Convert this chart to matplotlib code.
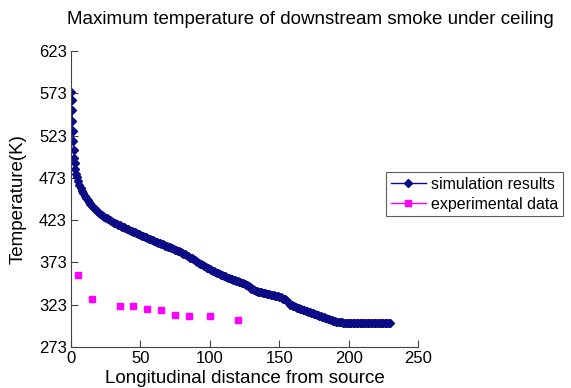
import matplotlib
matplotlib.use("Agg")
import matplotlib.pyplot as plt
from matplotlib.lines import Line2D

plt.rcParams['font.family'] = ['Liberation Sans', 'DejaVu Sans']

# simulated ceiling smoke temperature (K) along the tunnel (m)
sim_x = [0, 0.4, 0.7, 1.0, 1.3, 1.6, 1.9, 2.2, 2.6, 3.0, 3.5, 4, 5, 6, 7, 8, 9,
         10, 11, 12, 13, 14, 15, 16, 17, 18, 19,
         20, 21, 22, 23, 24, 25, 26, 27, 28, 29,
         30, 31, 32, 33, 34, 35, 36, 37, 38, 39,
         40, 41, 42, 43, 44, 45, 46, 47, 48, 49,
         50, 51, 52, 53, 54, 55, 56, 57, 58, 59,
         60, 61, 62, 63, 64, 65, 66, 67, 68, 69,
         70, 71, 72, 73, 74, 75, 76, 77, 78, 79,
         80, 81, 82, 83, 84, 85, 86, 87, 88, 89,
         90, 91, 92, 93, 94, 95, 96, 97, 98, 99,
         100, 101, 102, 103, 104, 105, 106, 107, 108, 109,
         110, 111, 112, 113, 114, 115, 116, 117, 118, 119,
         120, 121, 122, 123, 124, 125, 126, 127, 128, 129,
         130, 131, 132, 133, 134, 135, 136, 137, 138, 139,
         140, 141, 142, 143, 144, 145, 146, 147, 148, 149,
         150, 151, 152, 153, 154, 155, 156, 157, 158, 159,
         160, 161, 162, 163, 164, 165, 166, 167, 168, 169,
         170, 171, 172, 173, 174, 175, 176, 177, 178, 179,
         180, 181, 182, 183, 184, 185, 186, 187, 188, 189,
         190, 191, 192, 193, 194, 195, 196, 197, 198, 199,
         200, 201, 202, 203, 204, 205, 206, 207, 208, 209,
         210, 211, 212, 213, 214, 215, 216, 217, 218, 219,
         220, 221, 222, 223, 224, 225, 226, 227, 228, 229,
         230]
sim_T = [575, 565, 553, 540, 528, 516, 506, 497, 490, 484, 478, 474, 469,
         465, 461, 458, 455,
         452, 449, 446.5, 444, 442, 440, 438, 436.5, 435, 433.5,
         432, 430.7, 429.5, 428.2, 427, 426, 425, 424, 423, 422,
         421, 420.1, 419.2, 418.3, 417.5, 416.7, 416, 415.2, 414.5, 413.7,
         413, 412.2, 411.5, 410.7, 410, 409.2, 408.5, 407.7, 407, 406.2,
         405.5, 404.7, 404, 403.2, 402.5, 401.7, 401, 400.3, 399.7, 399,
         398.4, 397.7, 397, 396.3, 395.7, 395, 394.4, 393.7, 393, 392.3,
         391.6, 390.9, 390.2, 389.5, 388.8, 388.1, 387.4, 386.7, 386, 385.2,
         384.4, 383.5, 382.6, 381.6, 380.7, 379.7, 378.7, 377.7, 376.7, 375.7,
         374.7, 373.7, 372.7, 371.7, 370.7, 369.7, 368.7, 367.7, 366.8, 365.9,
         365, 364.1, 363.2, 362.4, 361.6, 360.8, 360, 359.2, 358.5, 357.8,
         357.1, 356.4, 355.7, 355, 354.4, 353.7, 353.1, 352.4, 351.8, 351.1,
         350.5, 349.9, 349.3, 348.7, 348.1, 347.4, 346.8, 346.1, 345.4, 344,
         342, 341, 340, 339.5, 339, 338.6, 338.2, 337.8, 337.4, 337,
         336.6, 336.2, 335.8, 335.4, 335, 334.6, 334.2, 333.8, 333.3, 332.8,
         332.3, 331.7, 331, 330.3, 329.5, 328, 326, 324.5, 323, 322.2,
         321.5, 320.9, 320.3, 319.6, 319, 318.4, 317.8, 317.2, 316.6, 316,
         315.4, 314.8, 314.2, 313.6, 313, 312.4, 311.8, 311.1, 310.5, 309.8,
         309.2, 308.6, 308, 307.4, 306.8, 306.2, 305.6, 305, 304.5, 304,
         303.5, 303.1, 302.8, 302.5, 302.2, 302, 301.8, 301.6, 301.5, 301.3,
         301.2, 301.1, 301, 301, 301, 301, 301, 301, 301, 301,
         301, 301, 301, 301, 301, 301, 301, 301, 301, 301,
         301, 301, 301, 301, 301, 301, 301, 301, 301, 301,
         301]

# measured values
exp_x = [5, 15, 35, 45, 55, 65, 75, 85, 100, 120]
exp_T = [358, 330, 322, 321, 318.5, 317, 311, 309.5, 309.5, 305]

x_ticks = [0, 50, 100, 150, 200, 250]
y_ticks = [273, 323, 373, 423, 473, 523, 573, 623]

sim_color = '#0b0b85'
exp_color = '#ff00ff'

fig = plt.figure(figsize=(5.71, 3.88), dpi=100)
ax = fig.add_axes([71 / 571, 41 / 388, 347 / 571, 296 / 388])

ax.plot(sim_x, sim_T, '-', color=sim_color, lw=1, marker='D', ms=4.5,
        mec=sim_color, mfc=sim_color)
ax.plot(exp_x, exp_T, 's', color=exp_color, ms=5, mec=exp_color)

ax.set_xlim(x_ticks[0], x_ticks[-1])
ax.set_ylim(y_ticks[0], y_ticks[-1])
ax.set_xticks(x_ticks)
ax.set_yticks(y_ticks)

for side in ['top', 'right']:
    ax.spines[side].set_visible(False)
for side in ['left', 'bottom']:
    ax.spines[side].set_color('#444444')
    ax.spines[side].set_linewidth(0.8)
ax.tick_params(direction='in', length=5, width=0.8, color='#444444',
               labelsize=12, pad=3)

ax.set_xlabel('Longitudinal distance from source', fontsize=13.5, labelpad=2.5)
ax.set_ylabel('Temperature(K)', fontsize=13.5, labelpad=9)

fig.text(310 / 571, 1 - 24 / 388,
         'Maximum temperature of downstream smoke under ceiling',
         ha='center', va='baseline', fontsize=13.5)

handles = [
    Line2D([], [], color=sim_color, lw=1, marker='D', ms=4),
    Line2D([], [], color=exp_color, lw=1, marker='s', ms=4),
]
leg = fig.legend(handles, ['simulation results', 'experimental data'],
                 loc='upper left', bbox_to_anchor=(386 / 571, 1 - 172 / 388),
                 fontsize=11.5, frameon=True, fancybox=False,
                 borderpad=0.3, labelspacing=0.3, handlelength=2.2,
                 handletextpad=0.3, borderaxespad=0)
leg.get_frame().set_edgecolor('#333333')
leg.get_frame().set_linewidth(0.8)

fig.savefig('out.png', dpi=100)
